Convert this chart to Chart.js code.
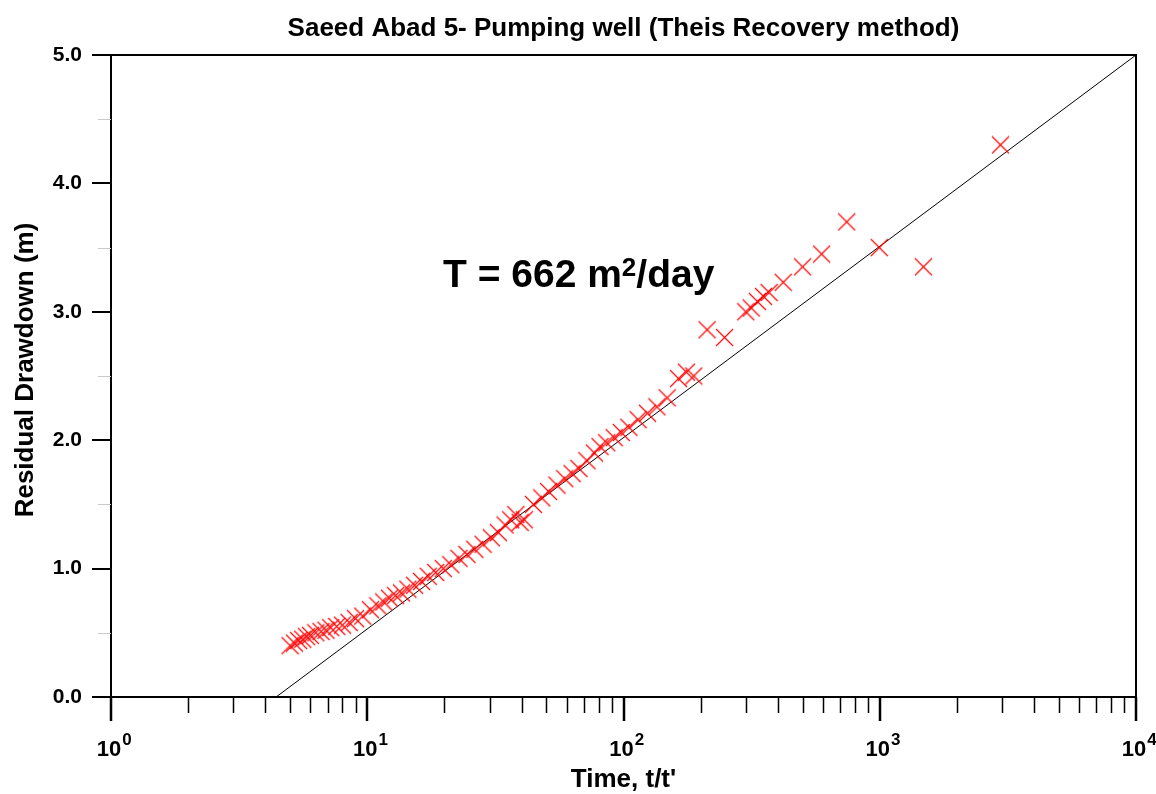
<!DOCTYPE html>
<html>
<head>
<meta charset="utf-8">
<title>Saeed Abad 5 - Theis Recovery</title>
<script src="https://cdn.jsdelivr.net/npm/chart.js@4.4.1/dist/chart.umd.min.js"></script>
<style>
  html, body { margin: 0; padding: 0; background: #fff; }
  #wrap { width: 1156px; height: 794px; }
</style>
</head>
<body>
<div id="wrap"><canvas id="chart" width="1156" height="794"></canvas></div>
<script>
// recovery readings: t/t' and residual drawdown (m)
const timeRatio = [5.0, 5.2, 5.4, 5.6, 5.8, 6.0, 6.3, 6.6, 6.9, 7.2, 7.6, 8.0, 8.5, 9.0, 9.6,
  10.3, 11.0, 11.6, 12.2, 12.9, 13.6, 14.4, 15.3, 16.3, 17.3, 18.5, 19.8, 21.2, 22.8, 24.5,
  26.3, 28.3, 30.5, 32.5, 34.5, 36.3, 38.0, 39.5, 41.0, 44.5, 48.0, 51.0, 55.0, 59.0, 63.0,
  67.0, 72.0, 77.0, 81.0, 86.0, 92.0, 98.0, 105, 114, 124, 135, 148, 164, 176, 188,
  212, 248, 300, 315, 333, 352, 370, 420, 500, 593, 743, 996, 1480, 2960];
const residualDrawdown = [0.40, 0.42, 0.44, 0.45, 0.47, 0.48, 0.50, 0.51, 0.52, 0.54, 0.55, 0.56, 0.58, 0.61, 0.63,
  0.68, 0.71, 0.74, 0.77, 0.79, 0.81, 0.84, 0.87, 0.90, 0.94, 0.97, 1.00, 1.03, 1.08, 1.11,
  1.15, 1.19, 1.24, 1.28, 1.34, 1.38, 1.42, 1.36, 1.38, 1.50, 1.55, 1.60, 1.65, 1.70, 1.74,
  1.78, 1.84, 1.90, 1.95, 1.98, 2.02, 2.06, 2.10, 2.16, 2.21, 2.26, 2.33, 2.48, 2.53, 2.50,
  2.86, 2.80, 3.00, 3.03, 3.08, 3.12, 3.15, 3.23, 3.35, 3.45, 3.70, 3.50, 3.35, 4.30];

// straight line fitted through the data
const fitTime = [4.41, 10000];
const fitDrawdown = [0.0, 5.0];

// axes
const xDecades = [1, 10, 100, 1000, 10000];
const xExponents = ['0', '1', '2', '3', '4'];
const yTicks = [0, 1, 2, 3, 4, 5];
const yTickLabels = ['0.0', '1.0', '2.0', '3.0', '4.0', '5.0'];
const yMinorTicks = [0.5, 1.5, 2.5, 3.5, 4.5];

const titleText = 'Saeed Abad 5- Pumping well (Theis Recovery method)';
const xTitle = "Time, t/t'";
const yTitle = 'Residual Drawdown (m)';

const FONT = 'Arial, "Liberation Sans", sans-serif';
const RED = '#ff0000';

// red "x" marker as a small image (used as pointStyle)
function makeCross(size) {
  const c = document.createElement('canvas');
  c.width = size;
  c.height = size;
  const g = c.getContext('2d');
  g.strokeStyle = RED;
  g.lineWidth = 1.1;
  g.beginPath();
  g.moveTo(1, 1);
  g.lineTo(size - 1, size - 1);
  g.moveTo(size - 1, 1);
  g.lineTo(1, size - 1);
  g.stroke();
  return c;
}
const crossMarker = makeCross(19);

// frame, ticks and all text drawn against the chart scales
const axesPlugin = {
  id: 'axesPlugin',
  afterDraw(chart) {
    const ctx = chart.ctx;
    const a = chart.chartArea;
    const xs = chart.scales.x;
    const ys = chart.scales.y;
    ctx.save();
    ctx.strokeStyle = '#000';
    ctx.fillStyle = '#000';

    ctx.lineWidth = 2;
    ctx.strokeRect(a.left, a.top, a.right - a.left, a.bottom - a.top);

    // x minor ticks
    ctx.lineWidth = 1.5;
    ctx.beginPath();
    for (let i = 0; i < xDecades.length - 1; i++) {
      for (let m = 2; m <= 9; m++) {
        const px = Math.round(xs.getPixelForValue(xDecades[i] * m)) + 0.5;
        ctx.moveTo(px, a.bottom);
        ctx.lineTo(px, a.bottom + 16);
      }
    }
    ctx.stroke();

    // x major ticks + labels
    ctx.lineWidth = 2.5;
    ctx.beginPath();
    xDecades.forEach(v => {
      const px = Math.round(xs.getPixelForValue(v));
      ctx.moveTo(px, a.bottom);
      ctx.lineTo(px, a.bottom + 24);
    });
    ctx.stroke();

    ctx.textBaseline = 'alphabetic';
    ctx.textAlign = 'left';
    xDecades.forEach((v, i) => {
      const px = xs.getPixelForValue(v);
      ctx.font = 'bold 22px ' + FONT;
      const w = ctx.measureText('10').width;
      ctx.fillText('10', px - w / 2 - 2, 756);
      ctx.font = 'bold 17px ' + FONT;
      ctx.fillText(xExponents[i], px + w / 2 - 1, 745);
    });

    // y ticks + labels
    ctx.lineWidth = 2;
    ctx.beginPath();
    yTicks.forEach(v => {
      const py = Math.round(ys.getPixelForValue(v));
      ctx.moveTo(a.left, py);
      ctx.lineTo(a.left - 19, py);
    });
    ctx.stroke();
    ctx.strokeStyle = '#c8c8c8';
    ctx.lineWidth = 1;
    ctx.beginPath();
    yMinorTicks.forEach(v => {
      const py = Math.round(ys.getPixelForValue(v)) + 0.5;
      ctx.moveTo(a.left, py);
      ctx.lineTo(a.left - 13, py);
    });
    ctx.stroke();

    ctx.font = 'bold 21px ' + FONT;
    ctx.textAlign = 'right';
    ctx.textBaseline = 'middle';
    yTicks.forEach((v, i) => {
      ctx.fillText(yTickLabels[i], 82, ys.getPixelForValue(v));
    });

    // titles
    const cx = (a.left + a.right) / 2;
    ctx.textAlign = 'center';
    ctx.textBaseline = 'alphabetic';
    ctx.font = 'bold 26px ' + FONT;
    ctx.fillText(titleText, cx, 36);
    ctx.fillText(xTitle, cx, 787);
    ctx.save();
    ctx.translate(33, 370);
    ctx.rotate(-Math.PI / 2);
    ctx.font = 'bold 26px ' + FONT;
    ctx.fillText(yTitle, 0, 0);
    ctx.restore();

    // transmissivity note
    ctx.textAlign = 'left';
    let x = 443;
    ctx.font = 'bold 39px ' + FONT;
    ctx.fillText('T = 662 m', x, 287);
    x += ctx.measureText('T = 662 m').width;
    ctx.font = 'bold 26px ' + FONT;
    ctx.fillText('2', x, 276);
    x += ctx.measureText('2').width;
    ctx.font = 'bold 39px ' + FONT;
    ctx.fillText('/day', x, 287);

    ctx.restore();
  }
};

new Chart(document.getElementById('chart'), {
  type: 'scatter',
  data: {
    datasets: [
      {
        label: 'Observed',
        data: timeRatio.map((t, i) => ({ x: t, y: residualDrawdown[i] })),
        pointStyle: crossMarker,
        pointRadius: 10,
        pointHoverRadius: 10,
        order: 1
      },
      {
        label: 'Fit',
        type: 'line',
        data: fitTime.map((t, i) => ({ x: t, y: fitDrawdown[i] })),
        borderColor: '#000',
        borderWidth: 1,
        pointRadius: 0,
        fill: false,
        order: 2
      }
    ]
  },
  options: {
    responsive: false,
    animation: false,
    events: [],
    layout: { padding: { left: 111, right: 20, top: 55, bottom: 97 } },
    plugins: {
      legend: { display: false },
      title: { display: false },
      tooltip: { enabled: false }
    },
    scales: {
      x: { type: 'logarithmic', min: 1, max: 10000, display: false },
      y: { type: 'linear', min: 0, max: 5, display: false }
    }
  },
  plugins: [axesPlugin]
});
</script>
</body>
</html>
